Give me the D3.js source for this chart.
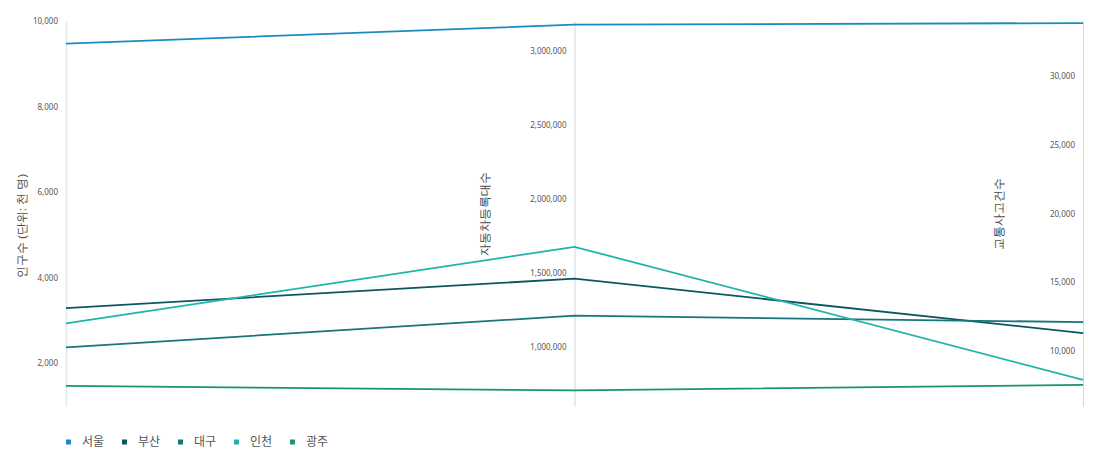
<!DOCTYPE html>
<html><head><meta charset="utf-8">
<script src="https://cdn.jsdelivr.net/npm/d3@7"></script>
<style>
html,body{margin:0;padding:0;background:#fff;}
svg{display:block;font-family:"Noto Sans CJK KR","Noto Sans",sans-serif;}
</style></head>
<body><svg id="c" width="1096" height="464"></svg>
<script>
const cities = ["서울","부산","대구","인천","광주"];
const population = [9470, 3290, 2370, 2930, 1470];          // 인구수 (천 명)
const vehicles = [3175000, 1460000, 1210000, 1675000, 705000]; // 자동차등록대수
const accidents = [33850, 11300, 12100, 7900, 7530];           // 교통사고건수
const dims = ["인구수 (단위: 천 명)","자동차등록대수","교통사고건수"];
const colors = ["#1a8bc1","#0d5660","#17757e","#22b2ae","#1b9474"];

(function () {
const svg = d3.select("#c");
const yTop = 21, yBottom = 406;
const x = d3.scalePoint().domain(dims).range([66, 1083]);
const series = [population, vehicles, accidents];
const ys = series.map(s => d3.scaleLinear().domain(d3.extent(s)).nice().range([yBottom, yTop]));
const titleX = [-40, -86, -80];
const titleY = [226, 214, 214];

// axes
dims.forEach((d, i) => {
  const g = svg.append("g").attr("transform", `translate(${x(d)},0)`);
  const ax = d3.axisLeft(ys[i]).ticks(5).tickSize(0).tickPadding(8).tickFormat(d3.format(","));
  g.call(ax);
  g.select(".domain").attr("stroke", i === 0 ? "#e8edf4" : "#ccd7e3").attr("stroke-width", i === 0 ? 2 : 1);
  g.selectAll(".tick text").attr("fill", "#555").attr("font-size", 8).attr("font-family", "'Noto Sans', sans-serif");
  g.append("text")
    .attr("transform", `translate(${titleX[i]},${titleY[i]}) rotate(-90)`)
    .attr("text-anchor", "middle")
    .attr("fill", "#4a4a4a")
    .attr("font-size", 11.5)
    .attr("font-weight", 500)
    .text(d);
});

// lines
const line = d3.line();
cities.forEach((c, k) => {
  const pts = dims.map((d, i) => [x(d), ys[i](series[i][k])]);
  svg.append("path").attr("d", line(pts)).attr("fill", "none")
    .attr("stroke", colors[k]).attr("stroke-width", 1.8);
});

// legend
const lg = svg.append("g").attr("transform", "translate(66,442)");
cities.forEach((c, k) => {
  const g = lg.append("g").attr("transform", `translate(${k * 56},0)`);
  g.append("rect").attr("x", 0).attr("y", -2.5).attr("width", 5).attr("height", 5).attr("fill", colors[k]);
  g.append("text").attr("x", 16).attr("y", 0).attr("dy", "0.35em").attr("font-size", 12).attr("fill", "#555").text(c);
});
})();
</script></body></html>
